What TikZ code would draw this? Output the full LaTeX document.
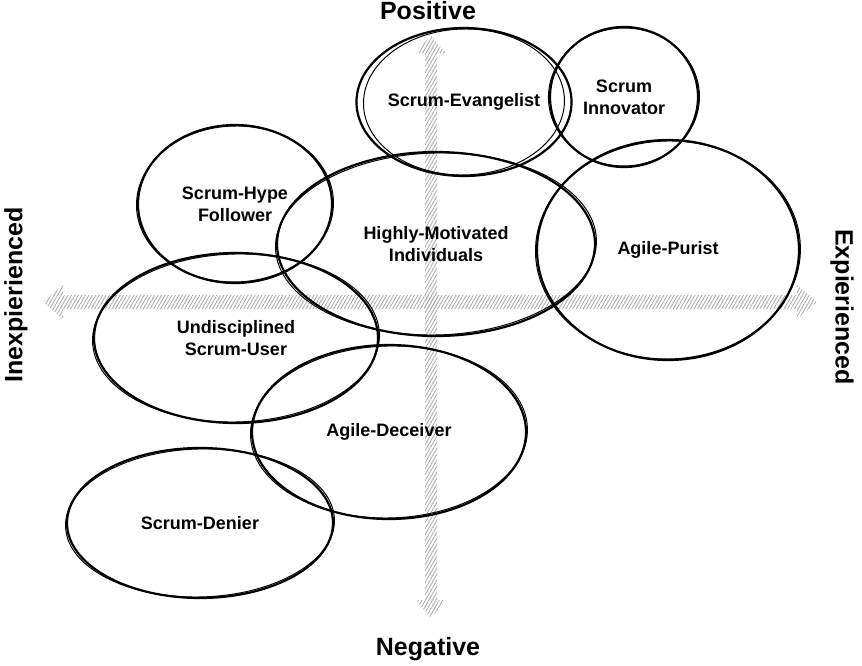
\documentclass[tikz,border=0pt]{standalone}
\usepackage{fontspec}
\setmainfont{Liberation Sans}
\usetikzlibrary{shapes.geometric, patterns.meta}
\tikzset{
        x=1pt, y=-1pt, % one unit is one pixel of the picture, y grows downwards
        axis/.style={pattern={Lines[angle=60,distance=3pt,line width=0.8pt]}, pattern color=gray!70}, % hatched axis arrows
        rough/.style={line width=1pt}, % the second, thinner stroke of a circle
    }
\tikzstyle{blob}=[draw,ellipse,line width=2.2pt,inner sep=0pt,align=center,font=\bfseries\fontsize{18}{22}\selectfont]
\tikzstyle{pole}=[font=\bfseries\fontsize{25}{30}\selectfont]

% name, x, y, x radius, y radius, text
\newcommand{\sketchblob}[6]{
    \node[blob,minimum width=2*#4,minimum height=2*#5] (#1) at (#2,#3) {#6};
    \draw[rough,rotate around={1.5:(#1.center)}] (#1.center) ellipse [x radius=#4+1.5, y radius=#5-1];
}

\begin{document}
\begin{tikzpicture}
    \useasboundingbox (0,0) rectangle (862,665);

    % axes
    \fill[axis] (431,35) -- (446,53) -- (437,53) -- (437,600) -- (446,600) -- (431,618)
        -- (416,600) -- (425,600) -- (425,53) -- (416,53) -- cycle;
    \fill[axis] (43,302) -- (63,285) -- (63,295) -- (797,295) -- (797,285) -- (817,302)
        -- (797,319) -- (797,309) -- (63,309) -- (63,319) -- cycle;

    \node[pole,anchor=base] (positive) at (428,19) {Positive};
    \node[pole,anchor=base] (negative) at (428,655) {Negative};
    \node[pole,rotate=90] (inexp) at (16,295) {Inexpierienced};
    \node[pole,rotate=-90] (exp) at (842,307) {Expierienced};

    % groups
    \sketchblob{evangelist}{464}{102}{99}{74}{Scrum-Evangelist}
    \sketchblob{innovator}{624}{97}{74}{70}{Scrum\\Innovator}
    \sketchblob{hype}{235}{204}{97}{79}{Scrum-Hype\\Follower}
    \sketchblob{motivated}{436}{244}{159}{92}{Highly-Motivated\\Individuals}
    \sketchblob{purist}{668}{250}{131}{110}{Agile-Purist}
    \sketchblob{undisciplined}{236}{338}{142}{85}{Undisciplined\\Scrum-User}
    \sketchblob{deceiver}{389}{432}{137}{87}{Agile-Deceiver}
    \sketchblob{denier}{200}{523}{133}{75}{Scrum-Denier}
\end{tikzpicture}
\end{document}
